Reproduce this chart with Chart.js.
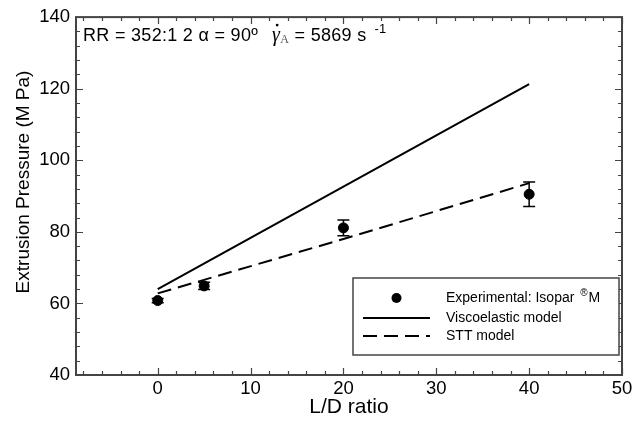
<!DOCTYPE html>
<html>
<head>
<meta charset="utf-8">
<script src="https://cdn.jsdelivr.net/npm/chart.js@4.4.0/dist/chart.umd.min.js"></script>
<style>
  html, body { margin: 0; padding: 0; background: #fff; }
</style>
</head>
<body>
<canvas id="chart" width="638" height="422"></canvas>
<script>
// measured points (Isopar M) with error bars
const ldRatio = [0, 5, 20, 40];
const pressure = [60.8, 64.9, 81.1, 90.5];
const pressureErr = [0.6, 1.0, 2.2, 3.4];

// model predictions
const viscoX = [0, 40];
const viscoY = [64.0, 121.3];
const sttX = [0, 20, 40];
const sttY = [62.8, 78.0, 93.6];

// axes
const xTicks = [0, 10, 20, 30, 40, 50];
const yTicks = [40, 60, 80, 100, 120, 140];
const legendLabels = ['Experimental: Isopar', 'Viscoelastic model', 'STT model'];
const yTitle = 'Extrusion Pressure (M Pa)';

const FONT = '"Liberation Sans", Arial, sans-serif';
const FRAME = '#444';

const toXY = (xs, ys) => xs.map((x, i) => ({ x: x, y: ys[i] }));

// minor ticks every 2 on x, every 4 on y
function minorValues(min, max, step) {
  const out = [];
  for (let v = Math.ceil(min / step) * step; v <= max + 1e-9; v += step) out.push(v);
  return out;
}

const framePlugin = {
  id: 'frame',
  afterDraw(chart) {
    const { ctx, chartArea: a, scales } = chart;
    const xs = scales.x, ys = scales.y;
    ctx.save();

    // error bars
    ctx.strokeStyle = '#000';
    ctx.lineWidth = 1.5;
    ldRatio.forEach((x, i) => {
      const px = xs.getPixelForValue(x);
      const top = ys.getPixelForValue(pressure[i] + pressureErr[i]);
      const bot = ys.getPixelForValue(pressure[i] - pressureErr[i]);
      ctx.beginPath();
      ctx.moveTo(px, top); ctx.lineTo(px, bot);
      ctx.moveTo(px - 6, top); ctx.lineTo(px + 6, top);
      ctx.moveTo(px - 6, bot); ctx.lineTo(px + 6, bot);
      ctx.stroke();
    });

    // frame
    ctx.strokeStyle = FRAME;
    ctx.lineWidth = 2;
    ctx.strokeRect(a.left, a.top, a.right - a.left, a.bottom - a.top);

    // inward ticks on all four sides
    ctx.lineWidth = 1.2;
    ctx.beginPath();
    minorValues(xs.min, xs.max, 2).forEach(v => {
      const px = Math.round(xs.getPixelForValue(v)) + 0.5;
      const len = v % 10 === 0 ? 7 : 4;
      ctx.moveTo(px, a.bottom); ctx.lineTo(px, a.bottom - len);
      ctx.moveTo(px, a.top); ctx.lineTo(px, a.top + len);
    });
    minorValues(ys.min, ys.max, 4).forEach(v => {
      const py = Math.round(ys.getPixelForValue(v)) + 0.5;
      const len = v % 20 === 0 ? 7 : 4;
      ctx.moveTo(a.left, py); ctx.lineTo(a.left + len, py);
      ctx.moveTo(a.right, py); ctx.lineTo(a.right - len, py);
    });
    ctx.stroke();

    // y axis title, sitting a little above the middle of the axis
    ctx.fillStyle = '#000';
    ctx.save();
    ctx.translate(24, 182);
    ctx.rotate(-Math.PI / 2);
    ctx.font = '19px ' + FONT;
    ctx.textAlign = 'center';
    ctx.textBaseline = 'middle';
    ctx.fillText(yTitle, 0, 0);
    ctx.restore();

    // condition text in the top left corner
    ctx.textBaseline = 'alphabetic';
    let tx = a.left + 7;
    const ty = a.top + 24;
    ctx.letterSpacing = '0.3px';
    ctx.font = '18px ' + FONT;
    const part1 = 'RR = 352:1 2 \u03b1 = 90\u00ba';
    ctx.fillText(part1, tx, ty);
    tx += ctx.measureText(part1).width + 14;
    ctx.font = 'italic 20px "Liberation Serif", serif';
    ctx.fillText('\u03b3', tx, ty);
    const gw = ctx.measureText('\u03b3').width;
    ctx.beginPath();
    ctx.arc(tx + gw / 2 + 1, ty - 16, 1.4, 0, Math.PI * 2);
    ctx.fill();
    tx += gw;
    ctx.fillStyle = '#555';
    ctx.font = '12px "Liberation Serif", serif';
    ctx.fillText('A', tx, ty + 2);
    tx += ctx.measureText('A').width;
    ctx.fillStyle = '#000';
    ctx.font = '18px ' + FONT;
    const part2 = ' = 5869 s';
    ctx.fillText(part2, tx, ty);
    tx += ctx.measureText(part2).width + 8;
    ctx.font = '13px ' + FONT;
    ctx.fillText('-1', tx, ty - 8);
    ctx.letterSpacing = '0px';

    // legend box
    const lx = 353, ly = 278, lw = 266, lh = 77;
    ctx.fillStyle = '#fff';
    ctx.fillRect(lx, ly, lw, lh);
    ctx.strokeStyle = FRAME;
    ctx.lineWidth = 1.5;
    ctx.strokeRect(lx, ly, lw, lh);

    const rows = [ly + 20, ly + 40, ly + 58];
    const sx0 = lx + 10, sx1 = lx + 77, textX = lx + 93;
    ctx.fillStyle = '#000';
    ctx.beginPath();
    ctx.arc((sx0 + sx1) / 2, rows[0], 5, 0, Math.PI * 2);
    ctx.fill();
    ctx.strokeStyle = '#000';
    ctx.lineWidth = 2;
    ctx.beginPath();
    ctx.moveTo(sx0, rows[1]); ctx.lineTo(sx1, rows[1]);
    ctx.stroke();
    ctx.setLineDash([14, 7]);
    ctx.beginPath();
    ctx.moveTo(sx0, rows[2]); ctx.lineTo(sx1, rows[2]);
    ctx.stroke();
    ctx.setLineDash([]);

    ctx.font = '14px ' + FONT;
    ctx.textBaseline = 'middle';
    legendLabels.forEach((t, i) => ctx.fillText(t, textX, rows[i]));
    let ex = textX + ctx.measureText(legendLabels[0] + '  ').width - 2;
    ctx.font = '10px ' + FONT;
    ctx.fillText('\u00ae', ex, rows[0] - 5);
    ex += ctx.measureText('\u00ae').width + 1;
    ctx.font = '14px ' + FONT;
    ctx.fillText('M', ex, rows[0]);

    ctx.restore();
  }
};

new Chart(document.getElementById('chart'), {
  type: 'scatter',
  data: {
    datasets: [
      {
        label: legendLabels[0],
        data: toXY(ldRatio, pressure),
        showLine: false,
        pointRadius: 5,
        pointBackgroundColor: '#000',
        pointBorderColor: '#000',
        order: 0
      },
      {
        label: legendLabels[1],
        data: toXY(viscoX, viscoY),
        showLine: true,
        borderColor: '#000',
        borderWidth: 2,
        pointRadius: 0,
        order: 1
      },
      {
        label: legendLabels[2],
        data: toXY(sttX, sttY),
        showLine: true,
        borderColor: '#000',
        borderWidth: 2,
        borderDash: [14, 7],
        pointRadius: 0,
        order: 2
      }
    ]
  },
  options: {
    responsive: false,
    animation: false,
    layout: { padding: { top: 15, right: 16, left: 0, bottom: 0 } },
    plugins: {
      legend: { display: false },
      tooltip: { enabled: false }
    },
    scales: {
      x: {
        type: 'linear',
        min: -8.8,
        max: 50,
        afterBuildTicks: s => { s.ticks = xTicks.map(v => ({ value: v })); },
        afterFit: s => { s.height = 47; },
        grid: { display: false, drawTicks: false },
        border: { display: false },
        ticks: { color: '#000', padding: 3, font: { family: FONT, size: 18.5 }, maxRotation: 0 },
        title: {
          display: true,
          text: 'L/D ratio',
          color: '#000',
          font: { family: FONT, size: 21 },
          padding: { top: 0, bottom: 2 }
        }
      },
      y: {
        type: 'linear',
        min: 40,
        max: 140,
        afterBuildTicks: s => { s.ticks = yTicks.map(v => ({ value: v })); },
        afterFit: s => { s.width = 76; },
        grid: { display: false, drawTicks: false },
        border: { display: false },
        ticks: { color: '#000', padding: 6, font: { family: FONT, size: 18.5 } },
        title: { display: false }
      }
    }
  },
  plugins: [framePlugin]
});
</script>
</body>
</html>
